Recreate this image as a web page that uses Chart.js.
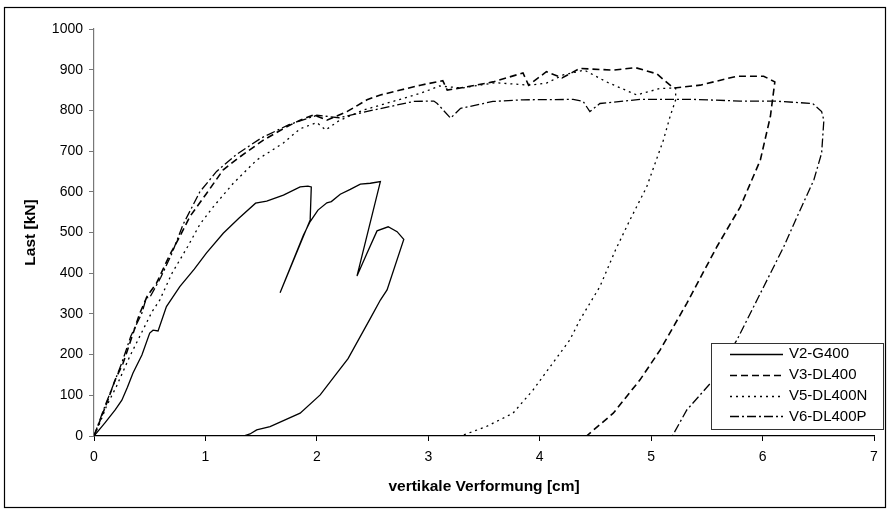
<!DOCTYPE html>
<html>
<head>
<meta charset="utf-8">
<script src="https://cdn.jsdelivr.net/npm/chart.js@4.4.1/dist/chart.umd.min.js"></script>
<style>
  html, body { margin: 0; padding: 0; background: #fff; }
  #wrap { width: 891px; height: 511px; }
</style>
</head>
<body>
<div id="wrap"><canvas id="c" width="891" height="511"></canvas></div>
<script>
// ---- data ----
const xTitle = 'vertikale Verformung [cm]';
const yTitle = 'Last [kN]';
const seriesNames = ['V2-G400', 'V3-DL400', 'V5-DL400N', 'V6-DL400P'];

const v2X = [0,0.1,0.19,0.25,0.3,0.35,0.43,0.5,0.53,0.575,0.65,0.77,0.9,1.01,1.16,1.3,1.45,1.55,1.70,1.85,1.92,1.95,1.94,1.67,1.80,1.88,1.94,2.01,2.09,2.13,2.21,2.30,2.39,2.48,2.57,2.36,2.45,2.54,2.64,2.72,2.78,2.63,2.57,2.48,2.28,2.19,2.03,1.85,1.58,1.46,1.40,1.34];
const v2Y = [0,33,64,88,120,155,199,253,260,258,318,367,410,450,498,535,572,577,592,612,614,612,531,352,440,494,527,555,573,576,594,606,619,621,625,393,449,504,514,502,483,359,334,289,190,158,101,56,23,15,5,0];

const v3X = [0,0.05,0.12,0.19,0.26,0.33,0.41,0.48,0.56,0.62,0.68,0.77,0.86,1.01,1.16,1.31,1.52,1.73,1.85,1.97,2.09,2.27,2.45,2.57,2.75,2.93,3.13,3.17,3.35,3.58,3.85,3.90,4.06,4.2,4.36,4.66,4.86,5.05,5.20,5.44,5.77,6.01,6.11,6.07,5.98,5.80,5.59,5.32,5.08,4.90,4.66,4.42];
const v3Y = [0,35,85,138,178,235,301,345,375,410,445,490,539,596,654,686,727,760,776,789,776,797,826,838,850,862,873,850,858,870,892,862,895,880,903,899,905,890,855,862,884,884,870,785,678,563,465,326,211,138,56,0];

const v5X = [0,0.05,0.11,0.2,0.32,0.42,0.52,0.59,0.7,0.84,0.95,1.07,1.25,1.46,1.70,1.85,2.0,2.08,2.2,2.42,2.72,2.93,3.1,3.3,3.6,3.91,4.06,4.21,4.4,4.6,4.87,5.08,5.22,5.22,5.17,5.11,4.96,4.81,4.68,4.54,4.36,4.27,3.94,3.76,3.52,3.29];
const v5Y = [0,30,72,121,195,250,305,334,400,465,520,563,621,678,720,755,770,752,775,801,825,842,860,855,868,862,867,887,899,870,838,854,855,826,785,727,612,531,457,367,285,236,113,56,23,0];

const v6X = [0,0.04,0.1,0.18,0.25,0.33,0.43,0.47,0.5,0.6,0.70,0.80,0.95,1.1,1.28,1.5,1.75,2.0,2.2,2.51,2.87,3.05,3.08,3.20,3.29,3.58,3.85,4.30,4.39,4.45,4.54,4.90,5.38,5.80,6.10,6.45,6.53,6.55,6.53,6.46,6.31,6.19,5.95,5.77,5.53,5.32,5.19];
const v6Y = [0,30,75,130,180,245,302,340,340,390,449,520,600,650,692,732,765,788,782,801,822,823,817,781,805,822,826,827,822,797,817,827,827,823,823,817,797,776,695,629,539,465,334,236,129,64,0];

const xTicks = [0,1,2,3,4,5,6,7];
const yTicks = [0,100,200,300,400,500,600,700,800,900,1000];

// ---- styles ----
const styles = [
  {color:'#000', width:1.3, dash:[]},
  {color:'#000', width:1.6, dash:[7,4]},
  {color:'#000', width:1.3, dash:[2,4]},
  {color:'#000', width:1.3, dash:[9,3,2,3]}
];
const xs = [v2X, v3X, v5X, v6X];
const ys = [v2Y, v3Y, v5Y, v6Y];

const datasets = seriesNames.map((name, i) => ({
  label: name,
  data: xs[i].map((x, k) => ({x: x, y: ys[i][k]})),
  showLine: true,
  borderColor: styles[i].color,
  borderWidth: styles[i].width,
  borderDash: styles[i].dash,
  pointRadius: 0,
  tension: 0,
  fill: false
}));

const frame = {
  id: 'frame',
  beforeDraw(chart) {
    const ctx = chart.ctx;
    ctx.save();
    ctx.fillStyle = '#fff';
    ctx.fillRect(0, 0, chart.width, chart.height);
    ctx.strokeStyle = '#000';
    ctx.lineWidth = 1.2;
    ctx.strokeRect(4.5, 7.5, 881, 500);
    ctx.restore();
  }
};

const boxLegend = {
  id: 'boxLegend',
  afterDraw(chart) {
    const ctx = chart.ctx;
    const ca = chart.chartArea;
    const bx = ca.right - 163, by = ca.bottom - 93, bw = 172, bh = 86;
    ctx.save();
    ctx.fillStyle = '#fff';
    ctx.fillRect(bx, by, bw, bh);
    ctx.strokeStyle = '#333';
    ctx.lineWidth = 1;
    ctx.strokeRect(bx + 0.5, by + 0.5, bw, bh);
    ctx.font = '15px "Liberation Sans", Arial, sans-serif';
    ctx.textBaseline = 'middle';
    ctx.fillStyle = '#000';
    chart.data.datasets.forEach((ds, i) => {
      const y = by + 11 + i * 20.8;
      ctx.beginPath();
      ctx.setLineDash(ds.borderDash || []);
      ctx.lineWidth = ds.borderWidth;
      ctx.strokeStyle = ds.borderColor;
      ctx.moveTo(bx + 19, Math.round(y) + 0.5);
      ctx.lineTo(bx + 72, Math.round(y) + 0.5);
      ctx.stroke();
      ctx.setLineDash([]);
      ctx.fillText(ds.label, bx + 78, y);
    });
    ctx.restore();
  }
};

new Chart(document.getElementById('c'), {
  type: 'scatter',
  data: { datasets },
  plugins: [frame, boxLegend],
  options: {
    responsive: false,
    animation: false,
    devicePixelRatio: 1,
    layout: { padding: { left: 0, top: 29, right: 17, bottom: 0 } },
    plugins: { legend: { display: false }, tooltip: { enabled: false } },
    scales: {
      x: {
        type: 'linear', min: 0, max: 7,
        afterBuildTicks: (s) => { s.ticks = xTicks.map(v => ({value: v})); },
        afterFit: (s) => { s.height = 75; },
        border: { color: '#000', width: 1.2 },
        grid: { drawOnChartArea: false, drawTicks: true, tickLength: 5, color: '#000' },
        ticks: { color: '#000', padding: 8, callback: (v) => String(v),
                 font: { size: 14, family: '"Liberation Sans", Arial, sans-serif' } },
        title: { display: true, text: xTitle, color: '#000', padding: { top: 0, bottom: 15 },
                 font: { size: 15.5, weight: 'bold', family: '"Liberation Sans", Arial, sans-serif' } }
      },
      y: {
        type: 'linear', min: 0, max: 1000,
        afterBuildTicks: (s) => { s.ticks = yTicks.map(v => ({value: v})); },
        afterFit: (s) => { s.width = 94; },
        border: { color: '#777', width: 1.2 },
        grid: { drawOnChartArea: false, drawTicks: true, tickLength: 5, color: '#777' },
        ticks: { color: '#000', padding: 6, callback: (v) => String(v),
                 font: { size: 14, family: '"Liberation Sans", Arial, sans-serif' } },
        title: { display: true, text: yTitle, color: '#000', padding: { top: 21, bottom: 0 },
                 font: { size: 15.5, weight: 'bold', family: '"Liberation Sans", Arial, sans-serif' } }
      }
    }
  }
});
</script>
</body>
</html>
